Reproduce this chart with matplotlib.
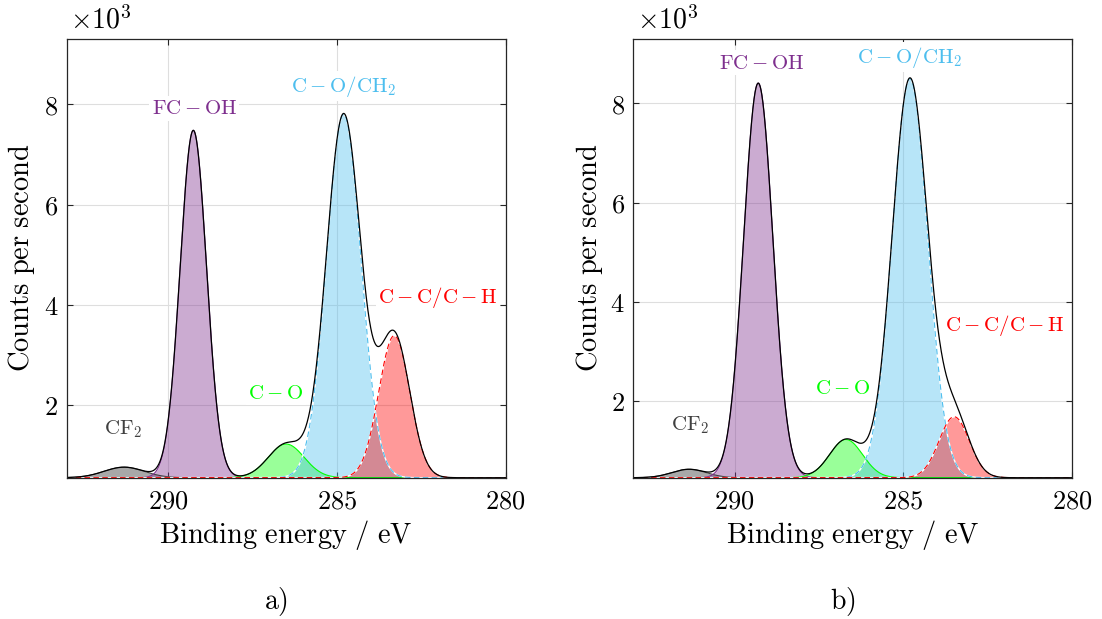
import numpy as np
import matplotlib
matplotlib.use("Agg")
import matplotlib.pyplot as plt
from matplotlib.ticker import FuncFormatter

plt.rcParams['mathtext.fontset'] = 'cm'
plt.rcParams['axes.unicode_minus'] = False

# C1s fit components (binding energy in eV, counts per second)
names = [r'$\mathrm{CF_2}$', r'$\mathrm{FC} - \mathrm{OH}$', r'$\mathrm{C} - \mathrm{O}$',
         r'$\mathrm{C} - \mathrm{O/CH_2}$', r'$\mathrm{C} - \mathrm{C/C} - \mathrm{H}$']
colors = ['#404040', '#7E2F8E', '#00ff00', '#4DBEEE', '#ff0000']
fill_colors = ['#7a7a7a', '#7E2F8E', '#00ff00', '#4DBEEE', '#ff0000']
fill_alpha = [0.65, 0.4, 0.4, 0.4, 0.4]
edge_styles = ['-', '-', '-', '--', '--']

# sample a)
a_base = 560
a_center = [291.3, 289.25, 286.5, 284.8, 283.3]
a_peak = [770, 7480, 1230, 7800, 3390]
a_fwhm = [1.4, 0.92, 1.25, 1.2, 1.08]
a_lab_x = [291.34, 289.22, 286.80, 284.81, 282.0]
a_lab_y = [1.52, 7.92, 2.25, 8.36, 4.15]

# sample b)
b_base = 450
b_center = [291.35, 289.3, 286.7, 284.81, 283.5]
b_peak = [620, 8410, 1220, 8500, 1680]
b_fwhm = [1.2, 1.02, 1.15, 1.24, 1.05]
b_lab_x = [291.32, 289.2, 286.81, 284.82, 282.0]
b_lab_y = [1.51, 8.82, 2.25, 8.93, 3.53]

E = np.linspace(293, 280, 2601)


def comp(c, peak, fwhm, base):
    return base + (peak - base) * np.exp(-4*np.log(2)*(E - c)**2 / fwhm**2)


def panel(ax, base, center, peak, fwhm, lab_x, lab_y):
    env = np.full_like(E, base, dtype=float)
    for i in range(len(center)):
        y = comp(center[i], peak[i], fwhm[i], base)
        env += y - base
        ax.fill_between(E, base/1e3, y/1e3, color=fill_colors[i],
                        alpha=fill_alpha[i], lw=0, zorder=2)
        if edge_styles[i] == '--':
            ax.plot(E, y/1e3, color='white', lw=1.0, zorder=3)
        ax.plot(E, y/1e3, color=colors[i], lw=0.8, ls=edge_styles[i],
                dashes=(5, 3) if edge_styles[i] == '--' else (None, None),
                zorder=3)
    ax.plot(E, env/1e3, color='k', lw=0.9, zorder=4)
    for i in range(len(names)):
        ax.text(lab_x[i], lab_y[i], names[i], color=colors[i], fontsize=15,
                ha='center', va='center', zorder=6,
                bbox=dict(facecolor='white', edgecolor='none', boxstyle='square,pad=0.12'))

    ax.set_xlim(293, 280)
    ax.set_ylim(base/1e3, 9.3)
    ax.set_xticks([290, 285, 280])
    ax.set_yticks([2, 4, 6, 8])
    ax.xaxis.set_major_formatter(FuncFormatter(lambda v, p: r'$%d$' % v))
    ax.yaxis.set_major_formatter(FuncFormatter(lambda v, p: r'$%d$' % v))
    ax.tick_params(direction='in', length=4, width=0.8, top=True, right=True,
                   labelsize=19, color='#262626')
    ax.tick_params(axis='x', pad=8)
    ax.tick_params(axis='y', pad=6)
    ax.grid(True, color='#dedede', lw=0.8, zorder=0)
    ax.set_axisbelow(True)
    for s in ax.spines.values():
        s.set_color('#262626')
        s.set_linewidth(0.9)
        s.set_zorder(5)
    ax.text(0.008, 1.043, r'$\times 10^{3}$', transform=ax.transAxes,
            fontsize=20, ha='left', va='center')


W, H = 1102, 619
fig = plt.figure(figsize=(W/100, H/100), dpi=100)
ax1 = fig.add_axes([66.7/W, 141.3/H, 439/W, 438.7/H])
ax2 = fig.add_axes([633.3/W, 141.3/H, 439/W, 438.7/H])

panel(ax1, a_base, a_center, a_peak, a_fwhm, a_lab_x, a_lab_y)
panel(ax2, b_base, b_center, b_peak, b_fwhm, b_lab_x, b_lab_y)

for x0, yl in [(66.7, 22), (633.3, 589.4)]:
    fig.text((x0 + 219.5)/W, 1 - 535/H, r'$\mathrm{Binding\ energy\ /\ eV}$',
             fontsize=20.5, ha='center', va='center')
    fig.text(yl/W, 1 - 258/H, r'$\mathrm{Counts\ per\ second}$',
             fontsize=20.5, rotation=90, ha='center', va='center')
fig.text(276/W, 1 - 601/H, r'$\mathrm{a)}$', fontsize=20, ha='center', va='center')
fig.text(843/W, 1 - 601/H, r'$\mathrm{b)}$', fontsize=20, ha='center', va='center')

fig.savefig('out.png', dpi=100)
